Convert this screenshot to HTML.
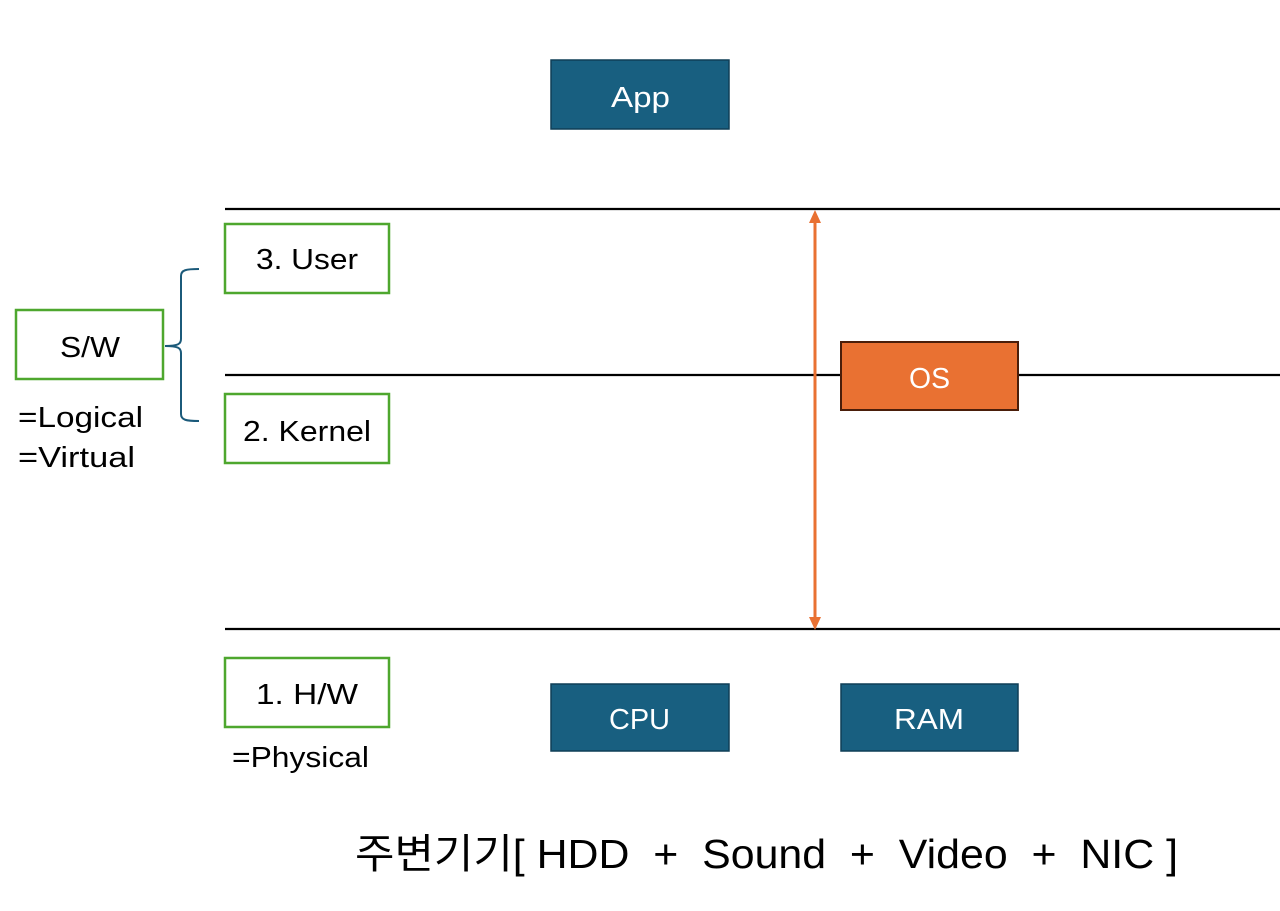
<!DOCTYPE html>
<html><head><meta charset="utf-8"><style>
html,body{margin:0;padding:0;background:#fff;}
svg{display:block;}
text{font-family:"Liberation Sans","Noto Sans CJK KR",sans-serif;}
</style></head><body>
<svg width="1280" height="911" viewBox="0 0 1280 911" xmlns="http://www.w3.org/2000/svg">
<rect width="1280" height="911" fill="#fff"/>
<g stroke="#000" stroke-width="2.2">
<line x1="225" y1="209" x2="1280" y2="209"/>
<line x1="225" y1="375" x2="1280" y2="375"/>
<line x1="225" y1="629" x2="1280" y2="629"/>
</g>
<rect x="551" y="60" width="178" height="69" fill="#185f80" stroke="#0f3f57" stroke-width="1.5"/>
<text x="611" y="107" font-size="29" fill="#fff" textLength="59" lengthAdjust="spacingAndGlyphs">App</text>
<g fill="#fff" stroke="#4ea72e" stroke-width="2.5">
<rect x="225" y="224" width="164" height="69"/>
<rect x="225" y="394" width="164" height="69"/>
<rect x="225" y="658" width="164" height="69"/>
<rect x="16" y="310" width="147" height="69"/>
</g>
<g font-size="29" fill="#000" lengthAdjust="spacingAndGlyphs">
<text x="256" y="269" textLength="102" lengthAdjust="spacingAndGlyphs">3. User</text>
<text x="243" y="441" textLength="128" lengthAdjust="spacingAndGlyphs">2. Kernel</text>
<text x="256" y="704" textLength="102" lengthAdjust="spacingAndGlyphs">1. H/W</text>
<text x="60" y="357" textLength="60" lengthAdjust="spacingAndGlyphs">S/W</text>
<text x="18" y="427" textLength="125" lengthAdjust="spacingAndGlyphs">=Logical</text>
<text x="18" y="467" textLength="117" lengthAdjust="spacingAndGlyphs">=Virtual</text>
<text x="232" y="767" textLength="137" lengthAdjust="spacingAndGlyphs">=Physical</text>
</g>
<path d="M199,269 C186,269 181,270 181,276 L181,339 C181,344 178,346 165,346 C178,346 181,348 181,353 L181,414 C181,420 186,421 199,421" fill="none" stroke="#1b5a7a" stroke-width="2"/>
<line x1="815" y1="222" x2="815" y2="617" stroke="#e97132" stroke-width="3"/>
<polygon points="815,210 809,223 821,223" fill="#e97132"/>
<polygon points="815,630 809,617 821,617" fill="#e97132"/>
<rect x="841" y="342" width="177" height="68" fill="#e97132" stroke="#4a1e0a" stroke-width="2"/>
<text x="909" y="388" font-size="29" fill="#fff" textLength="41" lengthAdjust="spacingAndGlyphs">OS</text>
<rect x="551" y="684" width="178" height="67" fill="#185f80" stroke="#0f3f57" stroke-width="1.5"/>
<text x="609" y="729" font-size="29" fill="#fff" textLength="61" lengthAdjust="spacingAndGlyphs">CPU</text>
<rect x="841" y="684" width="177" height="67" fill="#185f80" stroke="#0f3f57" stroke-width="1.5"/>
<text x="894" y="729" font-size="29" fill="#fff" textLength="70" lengthAdjust="spacingAndGlyphs">RAM</text>
<text x="355" y="868" font-size="41" fill="#000" textLength="823" lengthAdjust="spacingAndGlyphs" xml:space="preserve">주변기기[ HDD  +  Sound  +  Video  +  NIC ]</text>
</svg>
</body></html>
